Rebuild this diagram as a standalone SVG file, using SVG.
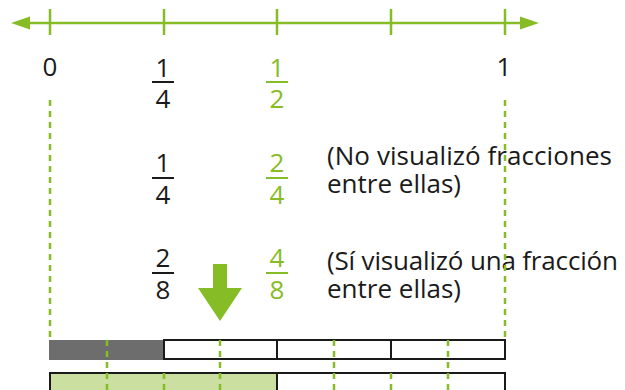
<svg xmlns="http://www.w3.org/2000/svg" width="625" height="390" viewBox="0 0 625 390">
<style>
.t{font-family:"Open Sans","Noto Sans",sans-serif;font-size:26px;fill:#1a1a1a}
.c{text-anchor:middle}
.g{fill:#86bc25}
.gl{stroke:#86bc25;stroke-width:2.5;fill:none}
.dash{stroke:#86bc25;stroke-width:2.5;stroke-dasharray:6 5;fill:none}
.bar{stroke:#1a1a1a;stroke-width:2}
.gbar{stroke:#86bc25;stroke-width:2}
.cell{fill:#fff;stroke:#1a1a1a;stroke-width:2}
</style>
<g id="number-line">
<line class="gl" x1="26" y1="23" x2="524" y2="23" stroke-width="3"/>
<polygon class="g" points="11,23 30,16.5 30,29.5"/>
<polygon class="g" points="539,23 520,16.5 520,29.5"/>
<line class="gl" x1="50" y1="9" x2="50" y2="35"/>
<line class="gl" x1="164" y1="9" x2="164" y2="35"/>
<line class="gl" x1="277" y1="9" x2="277" y2="35"/>
<line class="gl" x1="391" y1="9" x2="391" y2="35"/>
<line class="gl" x1="505" y1="9" x2="505" y2="35"/>
</g>
<g id="labels">
<text class="t c" x="50" y="76">0</text>
<text class="t c" x="504" y="76">1</text>
</g>
<g id="frac-row1">
<text class="t c" x="163" y="77">1</text>
<line class="bar" x1="152" y1="82" x2="174" y2="82"/>
<text class="t c" x="163" y="108">4</text>
<text class="t c g" x="277" y="77">1</text>
<line class="gbar" x1="266" y1="82" x2="288" y2="82"/>
<text class="t c g" x="277" y="108">2</text>
</g>
<g id="frac-row2">
<text class="t c" x="163" y="172">1</text>
<line class="bar" x1="152" y1="178" x2="174" y2="178"/>
<text class="t c" x="163" y="204">4</text>
<text class="t c g" x="277" y="172">2</text>
<line class="gbar" x1="266" y1="178" x2="288" y2="178"/>
<text class="t c g" x="277" y="204">4</text>
<text class="t" x="327" y="165" textLength="285">(No visualizó fracciones</text>
<text class="t" x="327" y="193">entre ellas)</text>
</g>
<g id="frac-row3">
<text class="t c" x="163" y="267">2</text>
<line class="bar" x1="152" y1="273" x2="174" y2="273"/>
<text class="t c" x="163" y="299">8</text>
<text class="t c g" x="277" y="267">4</text>
<line class="gbar" x1="266" y1="273" x2="288" y2="273"/>
<text class="t c g" x="277" y="299">8</text>
<text class="t" x="327" y="270" textLength="291">(Sí visualizó una fracción</text>
<text class="t" x="327" y="298">entre ellas)</text>
</g>
<g id="arrow">
<polygon class="g" points="213,264 227,264 227,288 242,288 220,321 198,288 213,288"/>
</g>
<g id="bar-quarters">
<rect x="49" y="340" width="114" height="20" fill="#6d6d6d"/>
<rect class="cell" x="164" y="340" width="113" height="19"/>
<rect class="cell" x="277" y="340" width="114" height="19"/>
<rect class="cell" x="391" y="340" width="114" height="19"/>
</g>
<g id="bar-halves">
<rect x="50" y="373" width="227" height="30" fill="#cadfa0" stroke="#1a1a1a" stroke-width="2"/>
<rect class="cell" x="277" y="373" width="228" height="30"/>
</g>
<g id="connectors">
<line class="dash" x1="50" y1="100" x2="50" y2="340"/>
<line class="dash" x1="505" y1="100" x2="505" y2="340"/>
<line class="dash" x1="107" y1="340" x2="107" y2="390"/>
<line class="dash" x1="220" y1="340" x2="220" y2="390"/>
<line class="dash" x1="334" y1="340" x2="334" y2="390"/>
<line class="dash" x1="448" y1="340" x2="448" y2="390"/>
<line class="dash" x1="164" y1="373" x2="164" y2="390"/>
<line class="dash" x1="391" y1="373" x2="391" y2="390"/>
</g>
</svg>
